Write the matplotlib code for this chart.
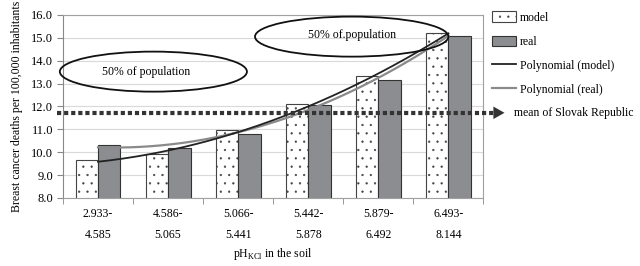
import numpy as np
import matplotlib
matplotlib.use("Agg")
import matplotlib.pyplot as plt
from matplotlib.patches import Ellipse, Patch
from matplotlib.lines import Line2D

plt.rcParams['font.family'] = ['Liberation Serif', 'DejaVu Serif']
plt.rcParams['hatch.color'] = '#9a9a9a'
plt.rcParams['hatch.linewidth'] = 0.4

categories = ["2.933-\n4.585", "4.586-\n5.065", "5.066-\n5.441",
              "5.442-\n5.878", "5.879-\n6.492", "6.493-\n8.144"]
model = [9.65, 9.9, 10.95, 12.12, 13.32, 15.22]
real = [10.3, 10.18, 10.8, 12.08, 13.15, 15.08]
mean_sr = 11.72
yticks = [8.0, 9.0, 10.0, 11.0, 12.0, 13.0, 14.0, 15.0, 16.0]

FS = 8.5

fig = plt.figure(figsize=(6.4, 2.66), dpi=100)
ax = fig.add_axes([0.0984, 0.256, 0.657, 0.688])

x = np.arange(len(categories))
w = 0.32
ax.bar(x - w/2, model, w, bottom=0, color='white', edgecolor='#444444',
       linewidth=0.8, hatch='..', zorder=2)
ax.bar(x + w/2, real, w, color='#8c8d90', edgecolor='#333333',
       linewidth=0.8, zorder=2)

# polynomial trendlines (order 2), Excel style on category index
xs = np.linspace(0, len(categories) - 1, 200)
pm = np.polyfit(x + 1, model, 2)
pr = np.polyfit(x + 1, real, 2)
ax.plot(xs, np.polyval(pr, xs + 1), color='#8a8a8a', lw=1.6, zorder=3)
ax.plot(xs, np.polyval(pm, xs + 1), color='#222222', lw=1.3, zorder=4)

ax.set_ylim(8, 16)
ax.set_xlim(-0.5, len(categories) - 0.5)
ax.set_yticks(yticks)
ax.set_yticklabels([f"{v:.1f}" for v in yticks], fontsize=FS + 0.5)
ax.set_xticks(x)
ax.set_xticklabels(categories, fontsize=FS, linespacing=2.0)
ax.tick_params(axis='x', length=0, pad=7)
ax.set_xticks(np.arange(-0.5, len(categories), 1), minor=True)
ax.tick_params(axis='x', which='minor', length=4, color='#888888')
ax.tick_params(axis='y', length=4, color='#888888', pad=3)
ax.yaxis.grid(True, color='#d9d9d9', lw=0.8, zorder=0)
ax.set_axisbelow(True)
for s in ax.spines.values():
    s.set_color('#a0a0a0')
    s.set_linewidth(0.8)
ax.spines['left'].set_color('#888888')

ax.set_ylabel("Breast cancer deaths per 100,000 inhabitants", fontsize=FS, labelpad=6)
ax.set_xlabel(r"pH$_{\mathregular{KCl}}$ in the soil", fontsize=FS, labelpad=4)

# ellipses
e1 = Ellipse((0.79, 13.52), 2.67, 1.75, fill=False, ec='#111111', lw=1.3, zorder=5, clip_on=False)
e2 = Ellipse((3.62, 15.05), 2.76, 1.75, fill=False, ec='#111111', lw=1.3, zorder=5, clip_on=False)
ax.add_patch(e1)
ax.add_patch(e2)
ax.text(0.68, 13.52, "50% of population", ha='center', va='center', fontsize=FS, zorder=6)
ax.text(3.62, 15.1, "50% of.population", ha='center', va='center', fontsize=FS, zorder=6)

# mean line with arrow
x_start = -0.59
x_end = 5.68
ax.plot([x_start, x_end], [mean_sr, mean_sr], color='#333333', lw=3,
        linestyle=(0, (1.0, 0.7)), clip_on=False, zorder=6,
        dash_capstyle='butt')
ax.annotate("", xy=(5.84, mean_sr), xytext=(5.66, mean_sr),
            arrowprops=dict(arrowstyle='-|>,head_length=0.8,head_width=0.45',
                            color='#333333', lw=0), annotation_clip=False)
ax.text(5.94, mean_sr, "mean of Slovak Republic", ha='left', va='center',
        fontsize=FS, clip_on=False)

handles = [Patch(facecolor='white', edgecolor='#444444', hatch='..', lw=0.8),
           Patch(facecolor='#8c8d90', edgecolor='#333333', lw=0.8),
           Line2D([], [], color='#222222', lw=1.3),
           Line2D([], [], color='#8a8a8a', lw=1.6)]
labels = ["model", "real", "Polynomial (model)", "Polynomial (real)"]
fig.legend(handles, labels, loc='upper left', bbox_to_anchor=(0.762, 0.975),
           frameon=False, fontsize=FS, handlelength=2.0, handleheight=1.0,
           labelspacing=1.0, handletextpad=0.35, borderaxespad=0)

fig.savefig("out.png", dpi=100)
